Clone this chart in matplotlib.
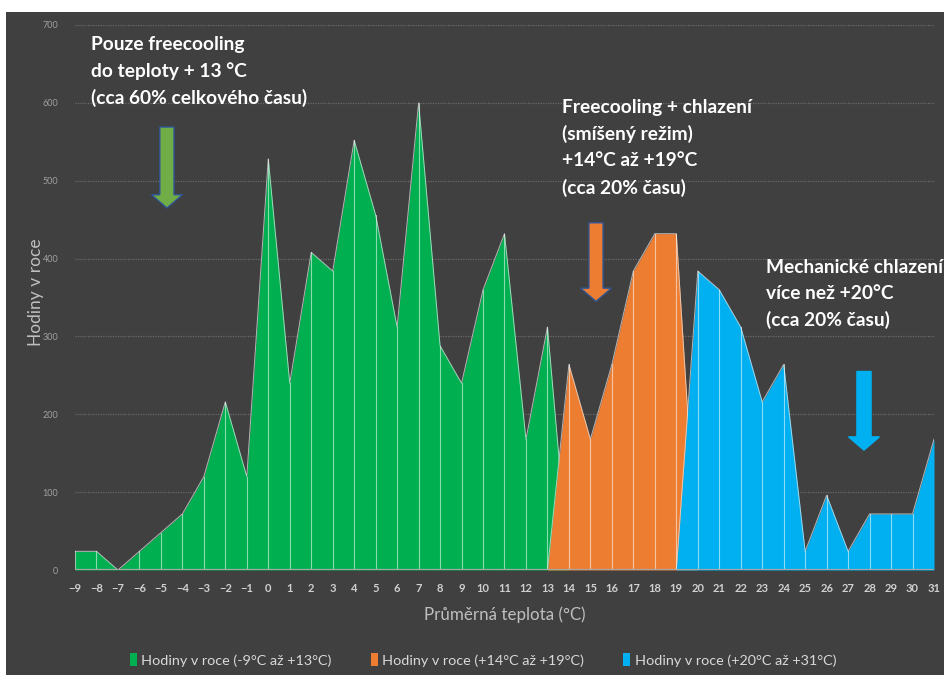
import numpy as np
import matplotlib.pyplot as plt
from matplotlib.patches import Rectangle, Polygon, Patch

# hodiny v roce pro kazdou prumernou teplotu
teploty = list(range(-9, 32))
zelena = [24, 24, 0, 24, 48, 72, 120, 216, 120, 528, 240, 408, 384, 552, 456,
          312, 600, 288, 240, 360, 432, 168, 312]          # -9 .. 13
oranzova = [264, 168, 264, 384, 432, 432]                  # 14 .. 19
modra = [384, 360, 312, 216, 264, 24, 96, 24, 72, 72, 72, 168]  # 20 .. 31

legenda = ['Hodiny v roce (-9°C až +13°C)',
           'Hodiny v roce (+14°C až +19°C)',
           'Hodiny v roce (+20°C až +31°C)']

# doplnit nulami na celou osu, jako v Excelu
n = len(teploty)
s1 = np.zeros(n); s1[:len(zelena)] = zelena
s2 = np.zeros(n); s2[23:29] = oranzova
s3 = np.zeros(n); s3[29:] = modra

barvy = ['#00b050', '#ed7d31', '#00b0f0']
bg = '#404040'

plt.rcParams['font.family'] = ['Lato', 'DejaVu Sans']

fig = plt.figure(figsize=(9.45, 6.75), dpi=100)
fig.patch.set_facecolor('white')
fig.add_artist(Rectangle((6/945, 0), 1, 1 - 12/675, transform=fig.transFigure,
                         facecolor=bg, edgecolor='none', zorder=0))

ax = fig.add_axes([75/945, 105/675, 859/945, 545/675])
ax.set_facecolor('none')

x = np.array(teploty)
for i, (s, c) in enumerate(zip([s1, s2, s3], barvy)):
    ax.fill_between(x, 0, s, color=c, lw=0, zorder=2 + i)
    ax.plot(x, s, color='#e8e8e8', lw=0.7, alpha=0.7, zorder=2 + i)
    for xi, v in zip(x, s):
        if v > 0:
            ax.plot([xi, xi], [0, v], color='white', lw=0.8, alpha=0.55,
                    zorder=2 + i)

ax.axhline(0, color='#a6a6a6', lw=1.6, zorder=6)

ax.set_xlim(-9, 31)
ax.set_ylim(0, 700)
ax.set_yticks(range(0, 701, 100))
ax.set_xticks(teploty)
ax.grid(axis='y', color='#6a6a6a', ls=(0, (1, 1)), lw=0.9, zorder=1)
ax.set_axisbelow(True)
for sp in ax.spines.values():
    sp.set_visible(False)
ax.tick_params(length=0)
ax.tick_params(axis='y', colors='#a0a0a0', labelsize=6.5, pad=12)
ax.tick_params(axis='x', colors='#d0d0d0', labelsize=8, pad=9)
for t in ax.get_xticklabels():
    t.set_fontweight('bold')

ax.set_ylabel('Hodiny v roce', color='#bfbfbf', fontsize=12.5)
ax.yaxis.set_label_coords(-0.036, 0.51)
ax.set_xlabel('Průměrná teplota (°C)', color='#bfbfbf', fontsize=12.2)
ax.xaxis.set_label_coords(0.5, -0.066)

# sipky
def sipka(xc, y0, y1, col, ec):
    sw, hw, hl = 0.33, 0.72, 17
    pts = [(xc - sw, y0), (xc + sw, y0), (xc + sw, y1 + hl), (xc + hw, y1 + hl),
           (xc, y1), (xc - hw, y1 + hl), (xc - sw, y1 + hl)]
    ax.add_patch(Polygon(pts, closed=True, facecolor=col, edgecolor=ec,
                         lw=1, zorder=8, clip_on=False))

sipka(-4.72, 569, 465, '#70ad47', '#2f5597')
sipka(15.26, 446, 345, '#ed7d31', '#2f5597')
sipka(27.74, 255, 154, '#00b0f0', '#00b0f0')

txt = dict(color='white', fontsize=13.8, fontweight='bold', va='top',
           linespacing=1.62)
fig.text(91/945, 1 - 36/675,
         'Pouze freecooling\ndo teploty + 13 °C\n(cca 60% celkového času)', **txt)
fig.text(562/945, 1 - 99/675,
         'Freecooling + chlazení\n(smíšený režim)\n+14°C až +19°C\n(cca 20% času)', **txt)
fig.text(766/945, 1 - 259/675,
         'Mechanické chlazení\nvíce než +20°C\n(cca 20% času)', **txt)

handles = [Patch(facecolor=c, edgecolor='none') for c in barvy]
fig.legend(handles, legenda, loc='center', bbox_to_anchor=(483/945, 1 - 660/675),
           ncol=3, frameon=False, fontsize=10.4, labelcolor='#d9d9d9',
           handlelength=0.5, handleheight=1.0, handletextpad=0.3,
           columnspacing=2.7)

fig.savefig('out.png', dpi=100, facecolor=fig.get_facecolor())
